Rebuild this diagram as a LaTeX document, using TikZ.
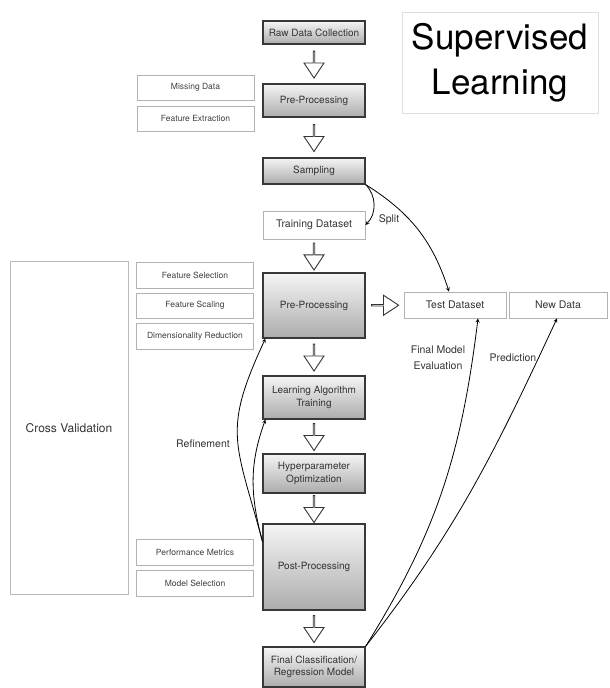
\documentclass[tikz,border=0pt]{standalone}
\usepackage{fontspec}
\setmainfont{TeX Gyre Heros}
\usetikzlibrary{positioning,arrows,calc,shapes.arrows,shadows}

\tikzset{
  graybox/.style={draw=black!78, line width=1.1pt, top color=gray!8, bottom color=gray!65,
    text=black!80, minimum width=102pt, align=center, inner sep=2pt,
    drop shadow={shadow xshift=1.2pt, shadow yshift=-1.2pt, opacity=0.35},
    font=\fontsize{10}{12.5}\selectfont},
  subbox/.style={draw=gray!60, line width=0.8pt, fill=white, minimum width=117pt,
    minimum height=25pt, text=black!75, font=\fontsize{8.5}{10}\selectfont},
  databox/.style={draw=gray!60, line width=0.9pt, fill=white, minimum height=26pt,
    text=black!80, font=\fontsize{10.5}{12}\selectfont},
  blockarrow/.style={single arrow, draw=black!80, line width=0.9pt, fill=white,
    minimum height=27pt, minimum width=20pt, single arrow head extend=5.5pt,
    single arrow tip angle=67, inner sep=0pt},
  lbl/.style={text=black!80, align=center, font=\fontsize{10.5}{16}\selectfont},
}

\begin{document}
\begin{tikzpicture}[x=1pt,y=1pt]
  \useasboundingbox (0,0) rectangle (610,688);
  % 表題
  \node[draw=gray!25, fill=white, minimum width=196pt, minimum height=101pt, align=center,
        drop shadow={shadow xshift=0pt, shadow yshift=-1.5pt, opacity=0.3},
        font=\fontsize{35}{45}\selectfont] (title) at (500,625.5) {Supervised\\Learning};

  % 主列
  \node[graybox, minimum height=23pt] (raw) at (314,655.5) {Raw Data Collection};
  \node[graybox, minimum height=33pt] (pre1) at (314,587.5) {Pre-Processing};
  \node[graybox, minimum height=26pt] (sampling) at (314,517) {Sampling};
  \node[databox, minimum width=102pt, minimum height=28pt] (training) at (314,463) {Training Dataset};
  \node[graybox, minimum height=65pt] (pre2) at (314,382.5) {Pre-Processing};
  \node[graybox, minimum height=43pt] (lat) at (314,290.5) {Learning Algorithm\\Training};
  \node[graybox, minimum height=39pt] (hyper) at (314,214.5) {Hyperparameter\\Optimization};
  \node[graybox, minimum height=86pt] (post) at (314,121) {Post-Processing};
  \node[graybox, minimum height=40pt] (final) at (314,21) {Final Classification/\\Regression Model};

  % 左の小箱
  \node[subbox] (missing) at (195.5,600.5) {Missing Data};
  \node[subbox] (featext) at (195.5,569.5) {Feature Extraction};
  \node[subbox, minimum height=26pt] (featsel) at (195,413) {Feature Selection};
  \node[subbox] (featscal) at (195,382.5) {Feature Scaling};
  \node[subbox, minimum height=26pt] (dimred) at (195,352) {Dimensionality Reduction};
  \node[subbox, minimum height=26pt] (perf) at (195,136) {Performance Metrics};
  \node[subbox, minimum height=26pt] (modsel) at (195,105) {Model Selection};
  \node[draw=gray!55, line width=1pt, minimum width=118pt, minimum height=333pt,
        text=black!80, font=\fontsize{12}{14}\selectfont] (cv) at (69,259.5) {Cross Validation};

  % 右の箱
  \node[databox, minimum width=102pt] (test) at (455,383) {Test Dataset};
  \node[databox, minimum width=98pt] (newdata) at (558,383) {New Data};

  % 白抜き矢印
  \foreach \a/\b in {raw/pre1, pre1/sampling, training/pre2, pre2/lat, lat/hyper, hyper/post, post/final}
    \node[blockarrow, rotate=-90] (\a-\b) at ($(\a.south)!0.5!(\b.north)$) {};
  \node[blockarrow] (pre2-test) at ($(pre2.east)!0.5!(test.west)$) {};

  % 曲線矢印
  \draw[->,>=stealth, line width=0.8pt] (sampling.south east) to[bend left=45] (training.east);
  \draw[->,>=stealth, line width=0.8pt] (sampling.south east) to[bend left=20] ([xshift=-6pt]test.north);
  \coordinate (ref) at ([yshift=-18pt]post.north west);
  \draw[->,>=stealth, line width=0.8pt] (ref) to[out=105,in=-115,looseness=1.3] ([xshift=3pt]pre2.south west);
  \draw[->,>=stealth, line width=0.8pt] (ref) to[out=105,in=-110] ([xshift=3pt]lat.south west);
  \draw[->,>=stealth, line width=0.8pt] (final.north east) to[out=58,in=-97] ([xshift=23pt]test.south);
  \draw[->,>=stealth, line width=0.8pt] (final.north east) to[out=52,in=-115] ([xshift=-1pt]newdata.south);

  % ラベル
  \node[lbl] (split) at (389,468) {Split};
  \node[lbl] (refine) at (203,244) {Refinement};
  \node[lbl] (evaluation) at (438,330) {Final Model\\Evaluation};
  \node[lbl] (prediction) at (513,330) {Prediction};
\end{tikzpicture}
\end{document}
